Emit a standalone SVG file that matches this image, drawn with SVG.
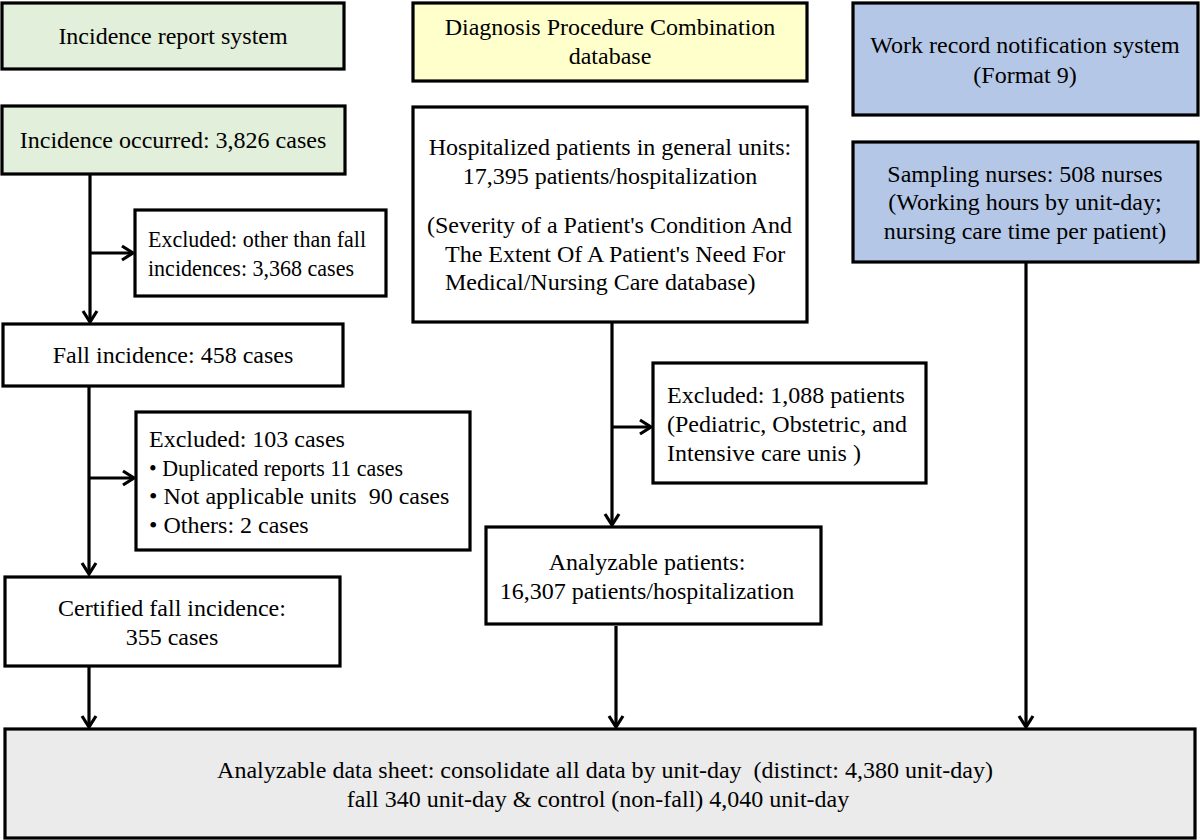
<svg xmlns="http://www.w3.org/2000/svg" width="1200" height="840" viewBox="0 0 1200 840">
<defs>
<marker id="arr" markerUnits="userSpaceOnUse" markerWidth="20" markerHeight="20" viewBox="-14 -10 16 20" refX="0" refY="0" orient="auto">
<path d="M-11,-7 L0,0 L-11,7" fill="none" stroke="#000" stroke-width="3.2"/>
</marker>
</defs>
<style>
rect{stroke:#000;stroke-width:3.2}
text{font-family:"Liberation Serif","Times New Roman",serif;font-size:24px;fill:#000}
.c{text-anchor:middle}
.w{fill:#fff}
.g{fill:#e2efda}
.y{fill:#ffffcc}
.b{fill:#b4c7e7}
.gr{fill:#ebebeb}
#connectors path{fill:none;stroke:#000;stroke-width:3.2}
</style>
<rect width="1200" height="840" fill="#fff" style="stroke:none"/>
<g id="connectors">
<path d="M90,175 V322" marker-end="url(#arr)"/>
<path d="M90,253 H133" marker-end="url(#arr)"/>
<path d="M89,387 V574" marker-end="url(#arr)"/>
<path d="M89,478 H134" marker-end="url(#arr)"/>
<path d="M89,667 V727" marker-end="url(#arr)"/>
<path d="M612,323 V525" marker-end="url(#arr)"/>
<path d="M612,427 H651" marker-end="url(#arr)"/>
<path d="M616,626 V727" marker-end="url(#arr)"/>
<path d="M1026,263 V727" marker-end="url(#arr)"/>
</g>
<g id="n-incidence-report">
<rect class="g" x="2" y="3" width="342" height="66"/>
<text class="c" x="173" y="44">Incidence report system</text>
</g>
<g id="n-incidence-occurred">
<rect class="g" x="2" y="106" width="343" height="68"/>
<text class="c" x="173" y="148">Incidence occurred: 3,826 cases</text>
</g>
<g id="n-excluded-other">
<rect class="w" x="135" y="210" width="251" height="86"/>
<text x="148" y="247" textLength="218" lengthAdjust="spacingAndGlyphs">Excluded: other than fall</text>
<text x="148" y="276" textLength="206" lengthAdjust="spacingAndGlyphs">incidences: 3,368 cases</text>
</g>
<g id="n-fall-incidence">
<rect class="w" x="3" y="324" width="340" height="62"/>
<text class="c" x="173" y="363">Fall incidence: 458 cases</text>
</g>
<g id="n-excluded-103">
<rect class="w" x="136" y="412" width="334" height="138"/>
<text x="149" y="447">Excluded: 103 cases</text>
<text x="149" y="476" textLength="254" lengthAdjust="spacingAndGlyphs">• Duplicated reports 11 cases</text>
<text x="149" y="504" xml:space="preserve">• Not applicable units  90 cases</text>
<text x="149" y="533">• Others: 2 cases</text>
</g>
<g id="n-certified">
<rect class="w" x="5" y="577" width="335" height="89"/>
<text class="c" x="172" y="616">Certified fall incidence:</text>
<text class="c" x="172" y="645">355 cases</text>
</g>
<g id="n-dpc">
<rect class="y" x="413" y="3" width="394" height="78"/>
<text class="c" x="610" y="35">Diagnosis Procedure Combination</text>
<text class="c" x="610" y="64">database</text>
</g>
<g id="n-hospitalized">
<rect class="w" x="413" y="107" width="394" height="215"/>
<text class="c" x="610" y="155">Hospitalized patients in general units:</text>
<text class="c" x="610" y="184">17,395 patients/hospitalization</text>
<text x="427" y="233">(Severity of a Patient's Condition And</text>
<text x="445" y="262">The Extent Of A Patient's Need For</text>
<text x="445" y="290">Medical/Nursing Care database)</text>
</g>
<g id="n-excluded-1088">
<rect class="w" x="653" y="363" width="273" height="120"/>
<text x="667" y="403">Excluded: 1,088 patients</text>
<text x="667" y="432">(Pediatric, Obstetric, and</text>
<text x="667" y="461">Intensive care unis )</text>
</g>
<g id="n-analyzable">
<rect class="w" x="486" y="527" width="335" height="97"/>
<text class="c" x="647" y="570">Analyzable patients:</text>
<text class="c" x="647" y="599">16,307 patients/hospitalization</text>
</g>
<g id="n-work-record">
<rect class="b" x="853" y="3" width="345" height="112"/>
<text class="c" x="1025" y="53">Work record notification system</text>
<text class="c" x="1025" y="83">(Format 9)</text>
</g>
<g id="n-sampling">
<rect class="b" x="853" y="142" width="345" height="120"/>
<text class="c" x="1025" y="182">Sampling nurses: 508 nurses</text>
<text class="c" x="1025" y="210">(Working hours by unit-day;</text>
<text class="c" x="1025" y="239">nursing care time per patient)</text>
</g>
<g id="n-datasheet">
<rect class="gr" x="5" y="729" width="1190" height="109"/>
<text class="c" x="605" y="778" xml:space="preserve">Analyzable data sheet: consolidate all data by unit-day  (distinct: 4,380 unit-day)</text>
<text class="c" x="598" y="807">fall 340 unit-day &amp; control (non-fall) 4,040 unit-day</text>
</g>
</svg>
